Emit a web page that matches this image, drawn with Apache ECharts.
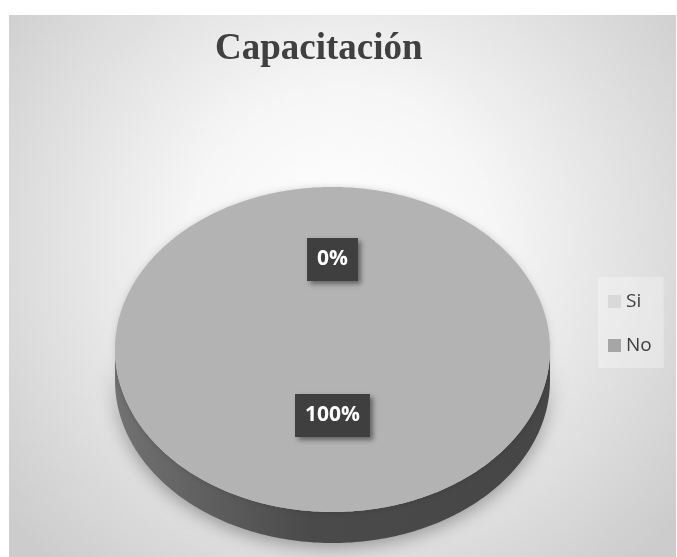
<!DOCTYPE html>
<html>
<head>
<meta charset="utf-8">
<script src="https://cdn.jsdelivr.net/npm/echarts@6/dist/echarts.min.js"></script>
<style>html,body{margin:0;padding:0;background:#fff}#c{width:677px;height:557px}</style>
</head>
<body>
<div id="c"></div>
<script>
const titleText = 'Capacitación';
const categories = ['Si', 'No'];
const values = [0, 100];

const legendColors = ['#d9d9d9', '#a6a6a6'];
const topColors = ['#d9d9d9', '#b3b3b3'];

const CX = 332.5, CY = 349.5, RX = 217.5, RY = 162.5, DEPTH = 31;
const LABEL_F = 0.48, LABEL_DY = -12;

const total = values.reduce((a, b) => a + b, 0);

function pt(a, dy) {
  return [CX + RX * Math.sin(a), CY - RY * Math.cos(a) + (dy || 0)];
}
function arc(a0, a1, dy) {
  const pts = [];
  const n = Math.max(2, Math.ceil((a1 - a0) / (Math.PI / 180)));
  for (let i = 0; i <= n; i++) pts.push(pt(a0 + (a1 - a0) * i / n, dy));
  return pts;
}

function makeRender(idx) {
  return function (params, api) {
    const v = api.value(0);
    let before = 0;
    for (let i = 0; i < idx; i++) before += values[i];
    const a0 = before / total * 2 * Math.PI;
    const a1 = a0 + v / total * 2 * Math.PI;
    const children = [];
    if (a1 > a0) {
      const s0 = Math.max(a0, Math.PI / 2), s1 = Math.min(a1, 3 * Math.PI / 2);
      if (s1 > s0) {
        const top = arc(s0, s1, 0);
        const bot = arc(s0, s1, DEPTH).reverse();
        children.push({
          type: 'polygon',
          z2: 1,
          shape: { points: top.concat(bot) },
          style: {
            fill: new echarts.graphic.LinearGradient(0, 0, 1, 0, [
              { offset: 0, color: '#727272' },
              { offset: 0.45, color: '#4a4a4a' },
              { offset: 1, color: '#464646' }
            ]),
            shadowColor: 'rgba(0,0,0,0.35)',
            shadowBlur: 18,
            shadowOffsetY: 4
          }
        });
      }
      const full = (a1 - a0) >= 2 * Math.PI - 1e-9;
      let pts = arc(a0, a1, 0);
      if (!full) pts = [[CX, CY]].concat(pts);
      children.push({
        type: 'polygon',
        z2: 2,
        shape: { points: pts },
        style: {
          fill: topColors[idx],
          shadowColor: 'rgba(0,0,0,0.15)',
          shadowBlur: 6
        }
      });
    }
    const mid = (a0 + a1) / 2;
    const lp = [CX + LABEL_F * RX * Math.sin(mid), CY - LABEL_F * RY * Math.cos(mid) + LABEL_DY];
    children.push({
      type: 'text',
      z2: 100,
      style: {
        text: Math.round(v / total * 100) + '%',
        x: lp[0], y: lp[1],
        align: 'center', verticalAlign: 'middle',
        fill: '#ffffff',
        font: 'bold 21px "Open Sans", sans-serif',
        lineHeight: 23,
        backgroundColor: '#3f3f3f',
        padding: [10, 10],
        shadowColor: 'rgba(0,0,0,0.45)',
        shadowBlur: 5,
        shadowOffsetX: 3,
        shadowOffsetY: 3
      }
    });
    return { type: 'group', children: children };
  };
}

const series = categories.map((name, i) => ({
  type: 'custom',
  name: name,
  coordinateSystem: 'none',
  z: 2,
  itemStyle: { color: legendColors[i] },
  data: [[values[i]]],
  renderItem: makeRender(i)
}));

const chart = echarts.init(document.getElementById('c'), null, { renderer: 'canvas' });
chart.setOption({
  backgroundColor: '#ffffff',
  animation: false,
  graphic: [{
    type: 'rect',
    z: -10,
    shape: { x: 9, y: 15, width: 667, height: 542 },
    style: {
      fill: new echarts.graphic.RadialGradient(0.5, 0.42, 0.8, [
        { offset: 0, color: '#ffffff' },
        { offset: 0.35, color: '#f6f6f6' },
        { offset: 1, color: '#cccccc' }
      ])
    }
  }],
  title: {
    text: titleText,
    left: 215,
    top: 31,
    padding: 0,
    textStyle: {
      fontFamily: '"Liberation Serif", "Times New Roman", serif',
      fontWeight: 'bold',
      fontSize: 37,
      color: '#404040'
    }
  },
  legend: {
    orient: 'vertical',
    left: 598,
    top: 277,
    padding: [15, 12, 13, 10],
    itemGap: 25,
    itemWidth: 13,
    itemHeight: 13,
    icon: 'rect',
    backgroundColor: 'rgba(255,255,255,0.3)',
    data: categories,
    textStyle: { color: '#404040', fontSize: 19, fontFamily: '"Open Sans", sans-serif' }
  },
  series: series
});
</script>
</body>
</html>
